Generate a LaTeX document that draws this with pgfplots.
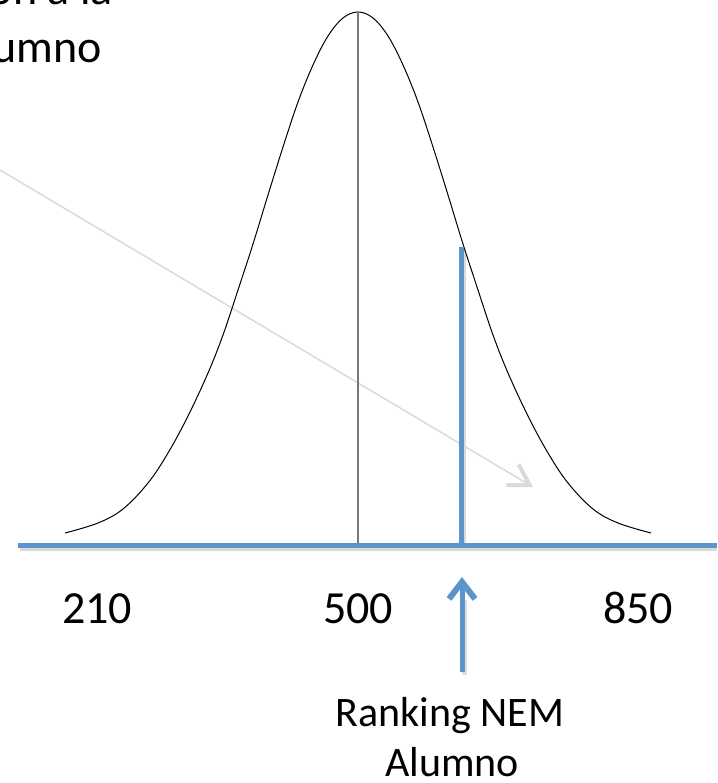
\documentclass[border=0pt]{standalone}
\usepackage{pgfplots}
\pgfplotsset{compat=1.18}
\usepackage{fontspec}
\setmainfont{Carlito}
\usetikzlibrary{arrows.meta}
\definecolor{nblue}{RGB}{93,148,204}
\definecolor{lgray}{RGB}{218,218,218}
\definecolor{mgray}{RGB}{120,120,120}
\definecolor{shadow}{RGB}{150,150,150}
\pgfplotstableread{
x y
65 533
98 523
123 509
148 483
168 453
188 416
208 373
223 335
238 290
253 244
268 195
283 147
298 102
313 65
328 36
343 18
358 12
373 18
388 36
403 65
418 102
433 147
448 195
463 244
478 290
493 335
508 373
528 416
548 453
568 483
593 509
618 523
651 533
}\curve
\begin{document}
\begin{tikzpicture}
\path[use as bounding box, clip] (0,0) rectangle (717pt,783pt);
\begin{axis}[
  at={(0,0)}, anchor=south west,
  scale only axis, width=717pt, height=783pt,
  xmin=0, xmax=717, ymin=0, ymax=783,
  y dir=reverse,
  hide axis, clip=false,
]
% shadows
\addplot[shadow, opacity=0.35, line width=5pt, no marks] coordinates {(20,548) (717,548)};
\addplot[shadow, opacity=0.35, line width=5pt, no marks] coordinates {(463,250) (463,548)};
\addplot[shadow, opacity=0.3, line width=5pt, no marks] coordinates {(464,675) (464,600)};
% gray arrow
\addplot[lgray, line width=1.5pt, no marks, -{Straight Barb[length=20pt,width=24pt,line width=4pt]}] coordinates {(0,170) (533,487)};
% bell curve
\addplot[black, line width=1pt, smooth, tension=0.6, no marks] table[x=x,y=y] {\curve};
% center line
\addplot[mgray, line width=1.8pt, no marks] coordinates {(358,12) (358,545)};
% baseline
\addplot[nblue, line width=5pt, no marks] coordinates {(18,545) (717,545)};
% student vertical
\addplot[nblue, line width=5pt, no marks] coordinates {(461,247) (461,545)};
% blue arrow
\addplot[nblue, line width=5pt, no marks, -{Straight Barb[length=17pt,width=26pt,line width=6pt]}] coordinates {(462,672) (462,577)};
% labels
\node[anchor=base, font=\fontsize{46}{50}\selectfont] at (axis cs:97,623) {210};
\node[anchor=base, font=\fontsize{46}{50}\selectfont] at (axis cs:358,623) {500};
\node[anchor=base, font=\fontsize{46}{50}\selectfont] at (axis cs:638,623) {850};
\node[anchor=base, font=\fontsize{42}{48}\selectfont] at (axis cs:450,726) {Ranking NEM};
\node[anchor=base, font=\fontsize{42}{48}\selectfont] at (axis cs:452,776) {Alumno};
\node[anchor=base east, font=\fontsize{46}{50}\selectfont, inner sep=0pt] at (axis cs:113,5) {Posición a la};
\node[anchor=base east, font=\fontsize{46}{50}\selectfont, inner sep=0pt] at (axis cs:102,63) {del Alumno};
\end{axis}
\end{tikzpicture}
\end{document}
